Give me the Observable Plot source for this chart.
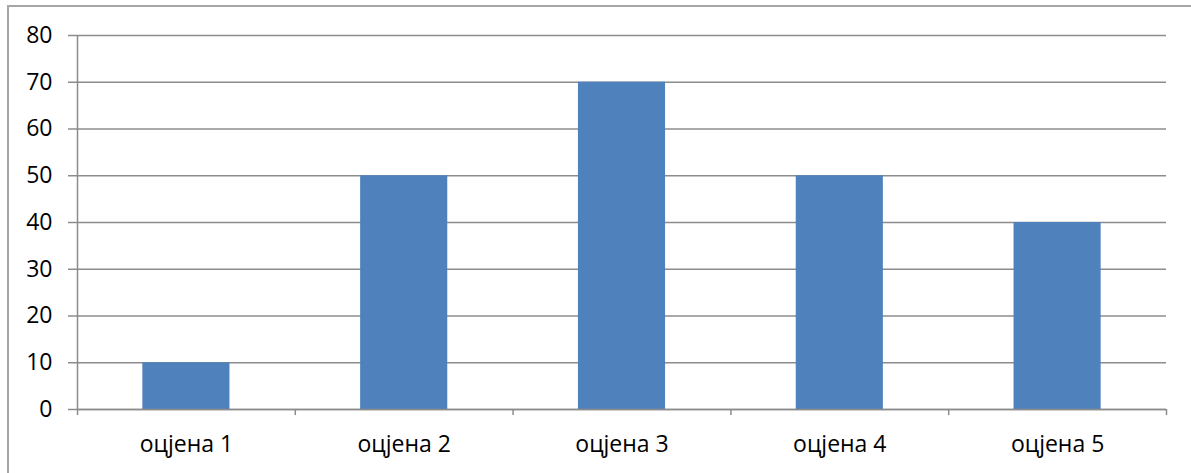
<!DOCTYPE html>
<html>
<head>
<meta charset="utf-8">
<script src="https://cdn.jsdelivr.net/npm/d3@7"></script>
<script src="https://cdn.jsdelivr.net/npm/@observablehq/plot@0.6"></script>
<style>
  html, body { margin: 0; padding: 0; background: #fff; overflow: hidden; }
  #wrap { position: relative; width: 1191px; height: 473px; }
  #frame { position: absolute; left: 7px; top: 5px; width: 1200px; height: 480px; border: 2px solid #a6a6a6; box-sizing: border-box; }
  #chart { position: absolute; left: 0; top: 0; }
</style>
</head>
<body>
<div id="wrap"><div id="frame"></div><div id="chart"></div></div>
<script>
const categories = ["оцјена 1", "оцјена 2", "оцјена 3", "оцјена 4", "оцјена 5"];
const values = [10, 50, 70, 50, 40];
const yTicks = [0, 10, 20, 30, 40, 50, 60, 70, 80];

const data = categories.map((c, i) => ({category: c, value: values[i]}));

const W = 1191, H = 473;
const ml = 77, mr = 25, mt = 35, mb = 64;
const bw = (W - ml - mr) / categories.length;
const gridColor = "#8c8c8c";
const font = "'Open Sans', sans-serif";

const chart = Plot.plot({
  width: W,
  height: H,
  marginLeft: ml,
  marginRight: mr,
  marginTop: mt,
  marginBottom: mb,
  style: {fontFamily: font, fontSize: "23px", background: "transparent", overflow: "visible"},
  x: {domain: categories, paddingInner: 0.6, paddingOuter: 0.3, align: 0.5, round: false},
  y: {domain: [0, 80]},
  marks: [
    Plot.gridY(yTicks, {stroke: gridColor, strokeOpacity: 1, strokeWidth: 1.5}),
    Plot.axisY(yTicks, {tickSize: 9, tickPadding: 16, stroke: gridColor, strokeWidth: 1.5, fill: "black", label: null, fontSize: 23}),
    Plot.barY(data, {x: "category", y: "value", fill: "#4F81BD"}),
    Plot.ruleX([categories[0]], {y1: 0, y2: 80, dx: -bw / 2, stroke: gridColor, strokeWidth: 1.5}),
    Plot.ruleY([0], {stroke: gridColor, strokeWidth: 1.5}),
    Plot.ruleX(categories, {y1: 0, y2: -1.3, dx: -bw / 2, stroke: gridColor, strokeWidth: 1.5}),
    Plot.ruleX([categories[categories.length - 1]], {y1: 0, y2: -1.3, dx: bw / 2, stroke: gridColor, strokeWidth: 1.5}),
    Plot.axisX({tickSize: 0, tickPadding: 26, label: null, fill: "black", fontSize: 23})
  ]
});
document.getElementById("chart").appendChild(chart);
</script>
</body>
</html>
